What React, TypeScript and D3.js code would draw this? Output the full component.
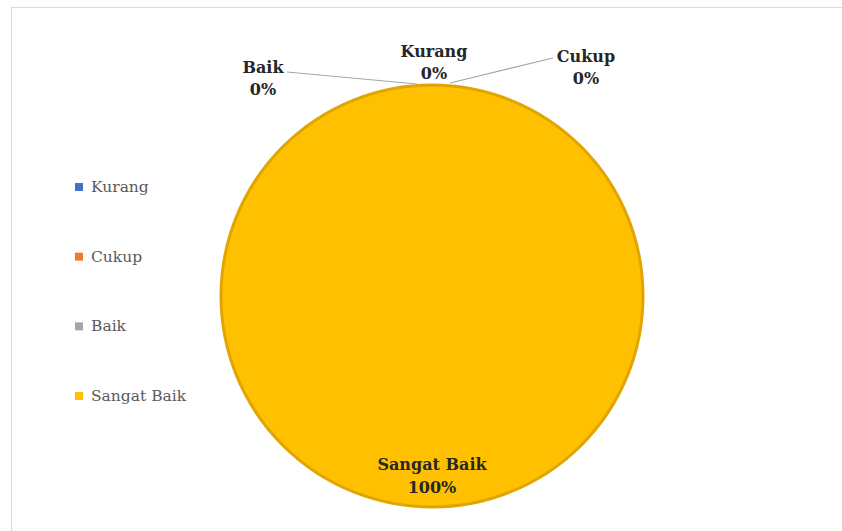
import React from "react";
import * as d3 from "d3";

const categories = ["Kurang", "Cukup", "Baik", "Sangat Baik"];
const values = [0, 0, 0, 100];
const percentLabels = ["0%", "0%", "0%", "100%"];
const colors = ["#4472C4", "#ED7D31", "#A5A5A5", "#FFC000"];

const W = 842;
const H = 531;

export default function App() {
  const cx = 432;
  const cy = 296;
  const r = 211;
  const pie = d3.pie<number>().sort(null).value((d) => d)(values);
  const arc = d3.arc<d3.PieArcDatum<number>>().innerRadius(0).outerRadius(r);
  const outside: Record<string, { dx: number; dy: number; lx: number; ly: number; ex: number; ey: number }> = {
    Kurang: { dx: 2, dy: -239, lx: 0, ly: 0, ex: 0, ey: 0 },
    Cukup: { dx: 154, dy: -234, lx: 121, ly: -238, ex: 18, ey: -213 },
    Baik: { dx: -169, dy: -223, lx: -145, ly: -224, ex: -15, ey: -212 },
  };
  const legendY = d3.scalePoint<string>().domain(categories).range([187, 396]);
  const fontStyle = { fontFamily: "'DejaVu Serif'" };
  const lblSize = 16;
  return (
    <svg width={W} height={H} style={{ position: "absolute", left: 0, top: 0 }}>
      <rect x={0} y={0} width={W} height={H} fill="#fff" />
      <rect x={11.5} y={7.5} width={W} height={H} fill="#fff" stroke="#d9d9d9" strokeWidth={1} />
      <g transform={`translate(${cx},${cy})`}>
        {pie.map((p, i) =>
          p.value > 0 ? (
            <path key={i} d={arc(p) || ""} fill={colors[i]} stroke="#E0A500" strokeWidth={3} />
          ) : null
        )}
        {pie.map((p, i) => {
          const name = categories[i];
          const o = outside[name];
          if (p.value > 0) {
            const ty = r - 37;
            return (
              <text key={i} x={0} y={ty} textAnchor="middle" style={fontStyle} fontWeight="bold" fontSize={lblSize} fill="#262626">
                <tspan x={0} dy={0}>{name}</tspan>
                <tspan x={0} dy={23}>{percentLabels[i]}</tspan>
              </text>
            );
          }
          return (
            <g key={i}>
              {o.lx !== 0 && (
                <line x1={o.lx} y1={o.ly} x2={o.ex} y2={o.ey} stroke="#a6a6a6" strokeWidth={1.2} />
              )}
              <text x={o.dx} y={o.dy} textAnchor="middle" style={fontStyle} fontWeight="bold" fontSize={lblSize} fill="#262626">
                <tspan x={o.dx} dy={0}>{name}</tspan>
                <tspan x={o.dx} dy={22}>{percentLabels[i]}</tspan>
              </text>
            </g>
          );
        })}
      </g>
      <g>
        {categories.map((c, i) => (
          <g key={c} transform={`translate(75,${legendY(c)})`}>
            <rect x={0} y={-4} width={8} height={8} fill={colors[i]} />
            <text x={16} y={5} style={fontStyle} fontSize={15.5} fill="#595959">{c}</text>
          </g>
        ))}
      </g>
    </svg>
  );
}
